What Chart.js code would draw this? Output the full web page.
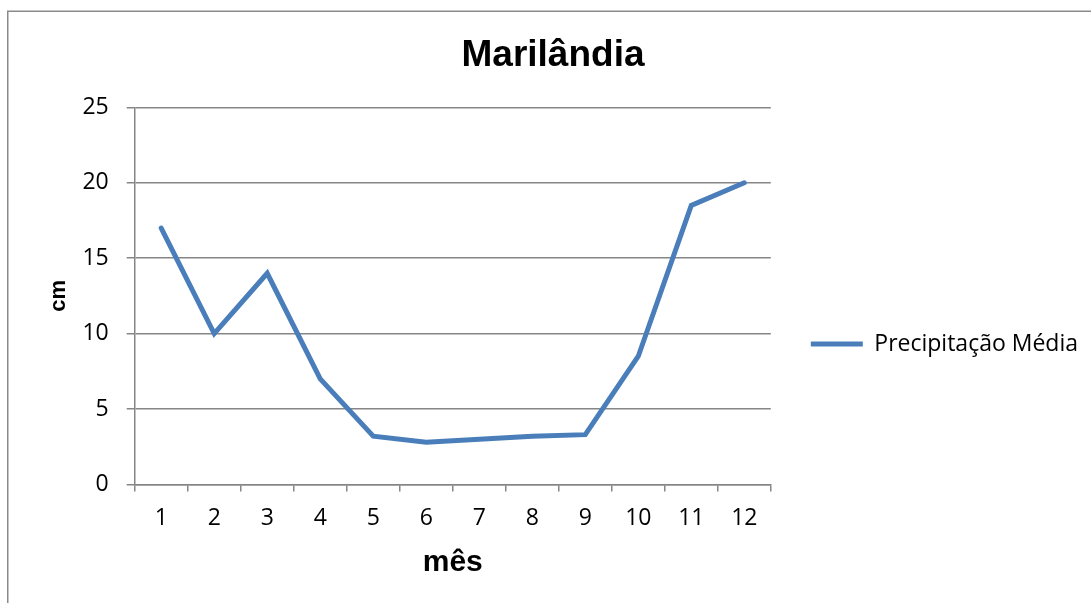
<!DOCTYPE html>
<html>
<head>
<meta charset="utf-8">
<title>Marilândia</title>
<script src="https://cdn.jsdelivr.net/npm/chart.js@4.4.1/dist/chart.umd.min.js"></script>
<style>
  html, body { margin: 0; padding: 0; background: #ffffff; overflow: hidden; }
  #chart { display: block; }
</style>
</head>
<body>
<canvas id="chart" width="1091" height="603"></canvas>
<script>
// average monthly rainfall, in cm
const months = ["1", "2", "3", "4", "5", "6", "7", "8", "9", "10", "11", "12"];
const rainfall = [17, 10, 14, 7, 3.2, 2.8, 3.0, 3.2, 3.3, 8.5, 18.5, 20];

const yMin = 0;
const yMax = 25;
const yStep = 5;

const gridGray = "#868686";
const lineBlue = "#4a7ebb";
const bodyFont = "'Open Sans', 'Noto Sans', sans-serif";
const headFont = "'Liberation Sans', Arial, sans-serif";

// outer border of the chart, only top and left edges are visible
const framePlugin = {
  id: "frame",
  beforeDraw(chart) {
    const ctx = chart.ctx;
    ctx.save();
    ctx.fillStyle = "#ffffff";
    ctx.fillRect(0, 0, chart.width, chart.height);
    ctx.strokeStyle = "#8a8a8a";
    ctx.lineWidth = 1.5;
    ctx.beginPath();
    ctx.moveTo(7.75, chart.height);
    ctx.lineTo(7.75, 11.25);
    ctx.lineTo(chart.width, 11.25);
    ctx.stroke();
    ctx.restore();
  }
};

function drawChart() {
  const ctx = document.getElementById("chart").getContext("2d");
  new Chart(ctx, {
    type: "line",
    data: {
      labels: months,
      datasets: [
        {
          label: "Precipitação Média",
          data: rainfall,
          borderColor: lineBlue,
          backgroundColor: lineBlue,
          borderWidth: 5,
          borderCapStyle: "round",
          borderJoinStyle: "miter",
          pointRadius: 0,
          pointHoverRadius: 0,
          tension: 0,
          fill: false
        }
      ]
    },
    options: {
      responsive: false,
      animation: false,
      events: [],
      layout: {
        padding: { top: 0, left: 18, right: 3, bottom: 0 }
      },
      plugins: {
        title: {
          display: true,
          text: "Marilândia",
          color: "#000000",
          font: { family: headFont, size: 37, weight: "bold" },
          padding: { top: 34, bottom: 29 }
        },
        legend: {
          display: true,
          position: "right",
          align: "center",
          maxWidth: 420, // lift the default half-width cap so the entry fits
          title: {
            // empty title only pushes the entry down
            display: true,
            text: "",
            font: { size: 1 },
            padding: { top: 84, bottom: 0 }
          },
          labels: {
            color: "#000000",
            font: { family: bodyFont, size: 23 },
            usePointStyle: true,
            pointStyle: "line",
            pointStyleWidth: 52,
            padding: 40
          }
        },
        tooltip: { enabled: false }
      },
      scales: {
        x: {
          type: "category",
          offset: true,
          grid: {
            offset: true,
            display: true,
            drawOnChartArea: false,
            drawTicks: true,
            tickLength: 7,
            color: gridGray,
            lineWidth: 1.5
          },
          border: { display: true, color: gridGray, width: 1.5 },
          ticks: {
            color: "#000000",
            font: { family: bodyFont, size: 23 },
            padding: 13,
            maxRotation: 0,
            autoSkip: false
          },
          title: {
            display: true,
            text: "mês",
            color: "#000000",
            font: { family: headFont, size: 30, weight: "bold" },
            padding: { top: 0, bottom: 22 }
          }
        },
        y: {
          min: yMin,
          max: yMax,
          grid: {
            display: true,
            drawOnChartArea: true,
            drawTicks: true,
            tickLength: 8,
            color: gridGray,
            lineWidth: 1.5
          },
          border: { display: true, color: gridGray, width: 1.5 },
          ticks: {
            stepSize: yStep,
            color: "#000000",
            font: { family: bodyFont, size: 23 },
            padding: 18
          },
          title: {
            display: true,
            text: "cm",
            color: "#000000",
            font: { family: headFont, size: 22, weight: "bold" },
            padding: { top: 28, bottom: -8 }
          }
        }
      }
    },
    plugins: [framePlugin]
  });
}

// make sure the local fonts are ready before the layout measures text
Promise.all([
  document.fonts.load("23px 'Open Sans'"),
  document.fonts.load("bold 37px 'Liberation Sans'")
]).then(drawChart, drawChart);
</script>
</body>
</html>
